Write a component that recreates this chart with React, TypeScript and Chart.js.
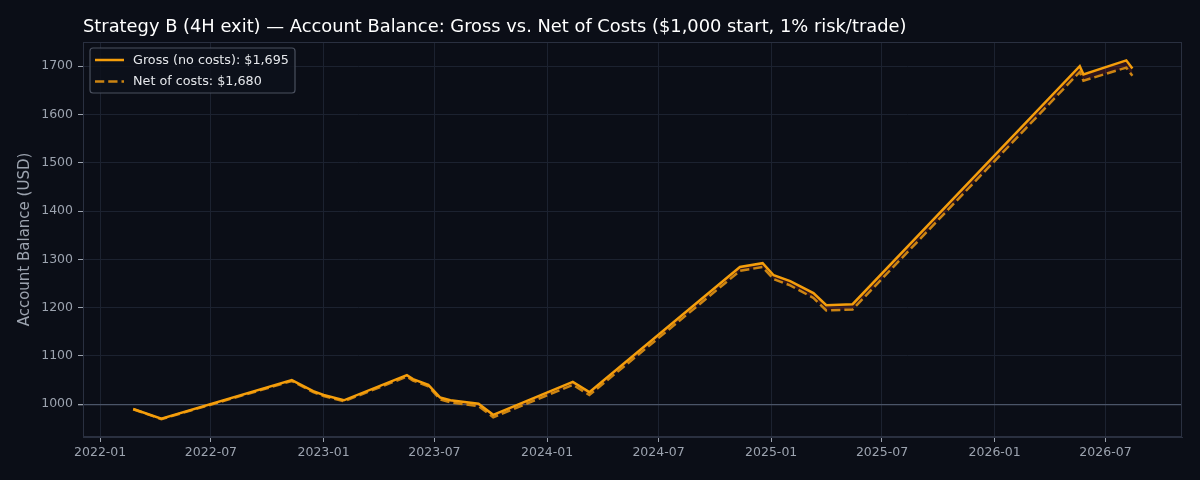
import React, { useEffect, useRef } from "react";
import { Chart, registerables } from "chart.js";

Chart.register(...registerables);

const titleText =
  "Strategy B (4H exit) — Account Balance: Gross vs. Net of Costs ($1,000 start, 1% risk/trade)";
const yAxisTitle = "Account Balance (USD)";

const dates = [
  "2022-02-24", "2022-04-11", "2022-11-10", "2022-12-15", "2023-01-01",
  "2023-02-03", "2023-05-17", "2023-05-27", "2023-06-21", "2023-06-29",
  "2023-07-10", "2023-07-27", "2023-09-11", "2023-10-05", "2024-02-12",
  "2024-03-10", "2024-11-11", "2024-12-18", "2025-01-05", "2025-02-01",
  "2025-03-11", "2025-04-01", "2025-05-14", "2026-05-20", "2026-05-26",
  "2026-08-04", "2026-08-14",
];

const grossValues = [
  990, 970, 1050, 1027, 1019,
  1008, 1060, 1052, 1040, 1029,
  1014, 1008, 1001, 978, 1046,
  1025, 1284, 1292, 1267, 1255,
  1230, 1205, 1207, 1700, 1683,
  1712, 1695,
];

const netValues = [
  989.5, 969, 1048, 1025, 1017,
  1006, 1057, 1049, 1037, 1026,
  1010, 1004, 996, 973, 1040,
  1019, 1276, 1284, 1259, 1246,
  1220, 1194, 1196, 1688, 1670,
  1697, 1680,
];

const grossLabel = "Gross (no costs): $1,695";
const netLabel = "Net of costs: $1,680";

const xTickLabels = [
  "2022-01", "2022-07", "2023-01", "2023-07", "2024-01",
  "2024-07", "2025-01", "2025-07", "2026-01", "2026-07",
];
const yTickValues = [1000, 1100, 1200, 1300, 1400, 1500, 1600, 1700];

const xMinDate = "2021-12-04";
const xMaxDate = "2026-11-03";
const yMin = 932;
const yMax = 1750;
const baselineValue = 1000;

const toMs = (s: string) => {
  const parts = s.split("-").map(Number);
  return Date.UTC(parts[0], parts[1] - 1, parts[2] || 1);
};

const BG = "#0b0e17";
const GRID = "#1c2230";
const SPINE = "#2a3040";
const TICK_TEXT = "#9ca3af";
const GROSS_COLOR = "#f59e0b";
const NET_COLOR = "#cc8412";
const FONT = "'DejaVu Sans', sans-serif";

const decorPlugin = {
  id: "decor",
  beforeDraw(chart: any) {
    const { ctx, width, height } = chart;
    ctx.save();
    ctx.fillStyle = BG;
    ctx.fillRect(0, 0, width, height);
    ctx.restore();
  },
  afterDraw(chart: any) {
    const { ctx, chartArea } = chart;
    ctx.save();
    ctx.strokeStyle = SPINE;
    ctx.lineWidth = 1;
    ctx.strokeRect(
      Math.round(chartArea.left) + 0.5,
      Math.round(chartArea.top) + 0.5,
      Math.round(chartArea.right - chartArea.left) - 1,
      Math.round(chartArea.bottom - chartArea.top) - 1
    );
    ctx.fillStyle = "#ffffff";
    ctx.font = `17.85px ${FONT}`;
    ctx.textBaseline = "alphabetic";
    ctx.textAlign = "left";
    ctx.fillText(titleText, chartArea.left, 32);

    const lx = chartArea.left + 7;
    const ly = chartArea.top + 6;
    const lw = 205;
    const lh = 45;
    ctx.beginPath();
    const r = 3;
    ctx.moveTo(lx + r, ly);
    ctx.lineTo(lx + lw - r, ly);
    ctx.arcTo(lx + lw, ly, lx + lw, ly + r, r);
    ctx.lineTo(lx + lw, ly + lh - r);
    ctx.arcTo(lx + lw, ly + lh, lx + lw - r, ly + lh, r);
    ctx.lineTo(lx + r, ly + lh);
    ctx.arcTo(lx, ly + lh, lx, ly + lh - r, r);
    ctx.lineTo(lx, ly + r);
    ctx.arcTo(lx, ly, lx + r, ly, r);
    ctx.closePath();
    ctx.fillStyle = "rgba(13,17,27,0.85)";
    ctx.fill();
    ctx.strokeStyle = "#4a505e";
    ctx.lineWidth = 1.2;
    ctx.stroke();

    const items = chart.data.datasets.map((d: any) => ({
      label: d.label,
      color: d.borderColor,
      dash: d.borderDash || [],
    }));
    items.forEach((it: any, i: number) => {
      const y = ly + 12 + i * 21.5;
      ctx.beginPath();
      ctx.setLineDash(it.dash);
      ctx.strokeStyle = it.color;
      ctx.lineWidth = 2.5;
      ctx.moveTo(lx + 5, y);
      ctx.lineTo(lx + 34, y);
      ctx.stroke();
      ctx.setLineDash([]);
      ctx.fillStyle = "#e5e7eb";
      ctx.font = `12.75px ${FONT}`;
      ctx.textBaseline = "middle";
      ctx.fillText(it.label, lx + 43, y + 0.5);
    });
    ctx.restore();
  },
};

export default function App() {
  const ref = useRef<HTMLCanvasElement | null>(null);

  useEffect(() => {
    document.body.style.margin = "0";
    document.body.style.background = BG;
    if (!ref.current) return;
    const grossData = dates.map((d, i) => ({ x: toMs(d), y: grossValues[i] }));
    const netData = dates.map((d, i) => ({ x: toMs(d), y: netValues[i] }));
    const tickMap: Record<number, string> = {};
    xTickLabels.forEach((l) => (tickMap[toMs(l)] = l));

    const chart = new Chart(ref.current, {
      type: "line",
      data: {
        datasets: [
          {
            label: grossLabel,
            data: grossData,
            borderColor: GROSS_COLOR,
            borderWidth: 2.5,
            pointRadius: 0,
            tension: 0,
            fill: false,
            order: 0,
          },
          {
            label: netLabel,
            data: netData,
            borderColor: NET_COLOR,
            borderWidth: 2.5,
            borderDash: [9.25, 4],
            pointRadius: 0,
            tension: 0,
            fill: { target: 0 },
            backgroundColor: "rgba(200,50,50,0.2)",
            order: 1,
          },
        ],
      },
      options: {
        responsive: false,
        animation: false,
        devicePixelRatio: 1,
        layout: { padding: { top: 42, right: 18, left: 0, bottom: 0 } },
        plugins: {
          legend: { display: false },
          tooltip: { enabled: false },
          title: { display: false },
        },
        scales: {
          x: {
            type: "linear",
            min: toMs(xMinDate),
            max: toMs(xMaxDate),
            afterBuildTicks: (scale: any) => {
              scale.ticks = xTickLabels.map((l) => ({ value: toMs(l) }));
            },
            afterFit: (scale: any) => {
              scale.height = 43;
            },
            ticks: {
              callback: (v: any) => tickMap[v as number] ?? "",
              color: TICK_TEXT,
              font: { family: FONT, size: 12.5 },
              padding: 3,
              maxRotation: 0,
              autoSkip: false,
            },
            grid: {
              color: GRID,
              tickColor: TICK_TEXT,
              tickLength: 5,
              lineWidth: 1,
            },
            border: { display: true, color: SPINE },
          },
          y: {
            type: "linear",
            min: yMin,
            max: yMax,
            afterBuildTicks: (scale: any) => {
              scale.ticks = yTickValues.map((v) => ({ value: v }));
            },
            afterFit: (scale: any) => {
              scale.width = 83;
            },
            title: {
              display: true,
              text: yAxisTitle,
              color: TICK_TEXT,
              font: { family: FONT, size: 15 },
              padding: { top: 16, bottom: 0 },
            },
            ticks: {
              callback: (v: any) => String(v),
              color: TICK_TEXT,
              font: { family: FONT, size: 12.5 },
              padding: 5,
            },
            grid: {
              color: (c: any) =>
                c.tick && c.tick.value === baselineValue ? "#4b5568" : GRID,
              lineWidth: (c: any) =>
                c.tick && c.tick.value === baselineValue ? 1.3 : 1,
              tickColor: TICK_TEXT,
              tickLength: 5,
            },
            border: { display: true, color: SPINE },
          },
        },
      },
      plugins: [decorPlugin],
    });
    return () => chart.destroy();
  }, []);

  return (
    <div style={{ width: 1200, height: 480, background: BG }}>
      <canvas ref={ref} width={1200} height={480} style={{ display: "block" }} />
    </div>
  );
}
